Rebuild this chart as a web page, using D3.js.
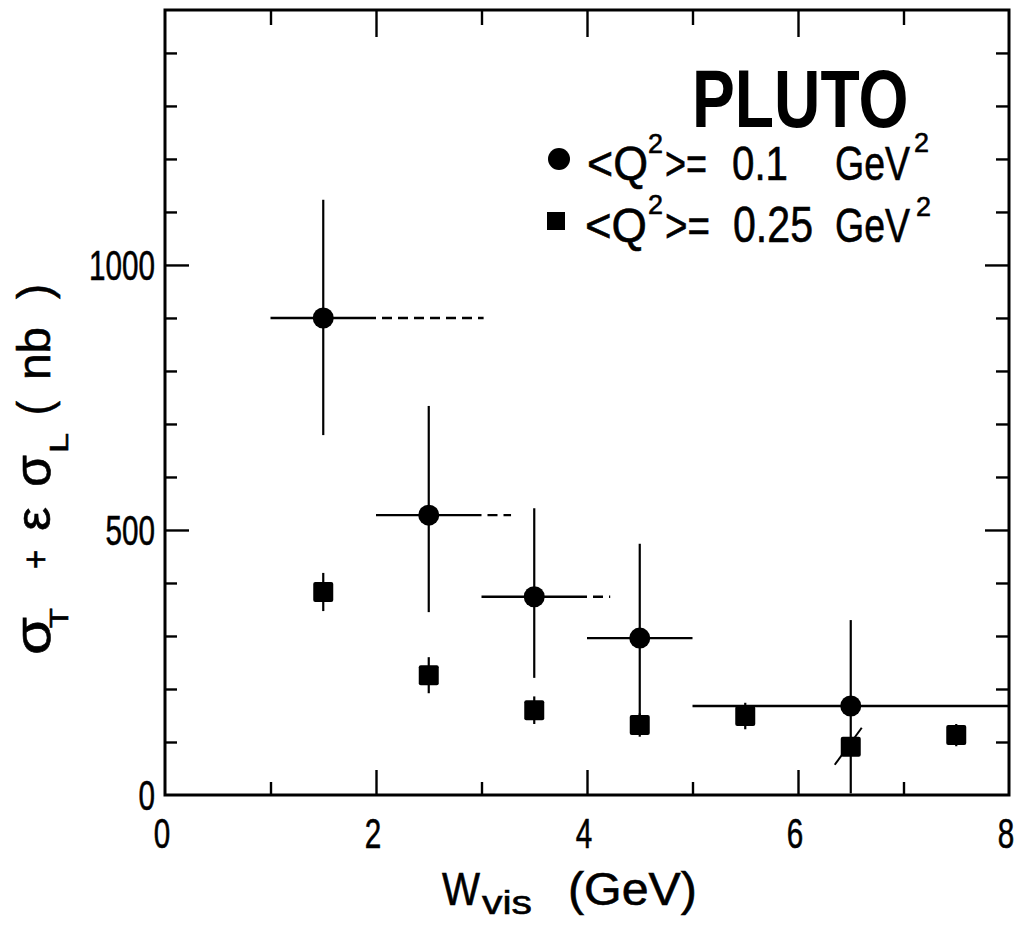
<!DOCTYPE html>
<html lang="en">
<head>
<meta charset="UTF-8">
<title>PLUTO sigma_T + eps sigma_L vs W_vis</title>
<script src="https://d3js.org/d3.v7.min.js"></script>
<style>
  body, html { margin: 0; background: #ffffff; overflow: hidden; }
  svg { display: block; }
  text { font-family: 'Liberation Sans', Arial, sans-serif; fill: #000; stroke: #000; stroke-width: 0.6px; }
  .axis path { display: none; }
  .axis line { stroke: #000; stroke-width: 2.4; }
</style>
</head>
<body>
<svg width="1020" height="926"></svg>
<script>
// <Q^2> = 0.1 GeV^2 (circles)
const wLow = [1.5, 2.5, 3.5, 4.5, 6.5];
const sigLow = [900, 528, 374, 296, 168];
const sigLowUp = [223, 206, 167, 178, 162];
const sigLowDown = [221, 183, 153, 178, 165];
const binLo = [1, 2, 3, 4, 5];
const binHi = [2, 3, 4, 5, 8];
const dashHi = [3.02, 3.28, 4.22, null, null];

// <Q^2> = 0.25 GeV^2 (squares)
const wHigh = [1.5, 2.5, 3.5, 4.5, 5.5, 6.5, 7.5];
const sigHigh = [383, 226, 160, 132, 149, 91, 113];
const sigHighErr = [36, 34, 26, 22, 25, 0, 21];

const xTickLabels = [0, 2, 4, 6, 8];
const yTickLabels = [0, 500, 1000];

const svg = d3.select("svg");
const x = d3.scaleLinear().domain([0, 8]).range([165, 1009]);
const y = d3.scaleLinear().domain([0, 1481]).range([795, 10]);

const digitW = 16.5;

// text squeezed horizontally to look like the narrow typeface of the original
function piece(parent, px, py, str, size, len, anchor) {
    const t = parent.append("text").attr("font-size", size).text(str);
    const nat = t.node().getComputedTextLength();
    const sx = len ? len / nat : 1;
    let dx = 0;
    if (anchor === "end") dx = -nat;
    if (anchor === "middle") dx = -nat / 2;
    t.attr("x", dx).attr("transform", `translate(${px},${py}) scale(${sx},1)`);
    return t;
}

// frame
svg.append("rect")
    .attr("x", x(0)).attr("y", y(1481))
    .attr("width", x(8) - x(0)).attr("height", y(0) - y(1481))
    .attr("fill", "none").attr("stroke", "#000").attr("stroke-width", 3);

const xMinor = [1, 3, 5, 7];
const yMinor = d3.range(100, 1500, 100).filter(v => v % 500 !== 0);
const yMajor = [500, 1000];

// bottom ticks
svg.append("g").attr("class", "axis").attr("transform", `translate(0,${y(0)})`)
    .call(d3.axisBottom(x).tickValues(xMinor).tickSize(-13).tickFormat(""));
svg.append("g").attr("class", "axis").attr("transform", `translate(0,${y(0)})`)
    .call(d3.axisBottom(x).tickValues([2, 4, 6]).tickSize(-25).tickFormat(""));
// top ticks
svg.append("g").attr("class", "axis").attr("transform", `translate(0,${y(1481)})`)
    .call(d3.axisTop(x).tickValues(xMinor).tickSize(-15).tickFormat(""));
svg.append("g").attr("class", "axis").attr("transform", `translate(0,${y(1481)})`)
    .call(d3.axisTop(x).tickValues([2, 4, 6]).tickSize(-27).tickFormat(""));
// left ticks
svg.append("g").attr("class", "axis").attr("transform", `translate(${x(0)},0)`)
    .call(d3.axisLeft(y).tickValues(yMinor).tickSize(-12).tickFormat(""));
svg.append("g").attr("class", "axis").attr("transform", `translate(${x(0)},0)`)
    .call(d3.axisLeft(y).tickValues(yMajor).tickSize(-24).tickFormat(""));
// right ticks
svg.append("g").attr("class", "axis").attr("transform", `translate(${x(8)},0)`)
    .call(d3.axisRight(y).tickValues(yMinor).tickSize(-13).tickFormat(""));
svg.append("g").attr("class", "axis").attr("transform", `translate(${x(8)},0)`)
    .call(d3.axisRight(y).tickValues(yMajor).tickSize(-24).tickFormat(""));

// tick labels
const labels = svg.append("g");
xTickLabels.forEach(v => piece(labels, Math.min(x(v) - 3, 1008), 848, String(v), 42, String(v).length * digitW, "middle"));
yTickLabels.forEach(v => piece(labels, x(0) - 10, y(v) + 15, String(v), 42, String(v).length * digitW, "end"));

// --- data: circles with horizontal bin bars ---
const low = wLow.map((w, i) => ({w, s: sigLow[i], up: sigLowUp[i], dn: sigLowDown[i],
    lo: binLo[i], hi: binHi[i], dash: dashHi[i]}));
const lowG = svg.append("g");
lowG.selectAll("line.v").data(low).join("line")
    .attr("x1", d => x(d.w)).attr("x2", d => x(d.w))
    .attr("y1", d => y(d.s + d.up)).attr("y2", d => y(Math.max(0, d.s - d.dn)))
    .attr("stroke", "#000").attr("stroke-width", 2.2);
lowG.selectAll("line.h").data(low).join("line")
    .attr("x1", d => x(d.lo)).attr("x2", d => x(d.hi))
    .attr("y1", d => y(d.s)).attr("y2", d => y(d.s))
    .attr("stroke", "#000").attr("stroke-width", 2.4);
lowG.selectAll("line.d").data(low.filter(d => d.dash !== null)).join("line")
    .attr("x1", d => x(d.hi) + 6).attr("x2", d => x(d.dash))
    .attr("y1", d => y(d.s)).attr("y2", d => y(d.s))
    .attr("stroke", "#000").attr("stroke-width", 2.4).attr("stroke-dasharray", "10,6");
lowG.selectAll("circle").data(low).join("circle")
    .attr("cx", d => x(d.w)).attr("cy", d => y(d.s)).attr("r", 10.5).attr("fill", "#000");

// --- data: squares ---
const high = wHigh.map((w, i) => ({w, s: sigHigh[i], e: sigHighErr[i]}));
const highG = svg.append("g");
highG.selectAll("line").data(high.filter(d => d.e > 0)).join("line")
    .attr("x1", d => x(d.w)).attr("x2", d => x(d.w))
    .attr("y1", d => y(d.s + d.e)).attr("y2", d => y(d.s - d.e))
    .attr("stroke", "#000").attr("stroke-width", 2.2);
highG.selectAll("rect").data(high).join("rect")
    .attr("x", d => x(d.w) - 10).attr("y", d => y(d.s) - 10)
    .attr("width", 20).attr("height", 20).attr("rx", 2).attr("fill", "#000");
// slash drawn through the 6.5 GeV square
const slashed = high.find(d => d.w === 6.5);
highG.append("line")
    .attr("x1", x(slashed.w) - 16).attr("y1", y(slashed.s) + 18)
    .attr("x2", x(slashed.w) + 11).attr("y2", y(slashed.s) - 19)
    .attr("stroke", "#000").attr("stroke-width", 2);

// --- title & legend ---
piece(svg, 692, 127, "PLUTO", 82, 213).attr("font-weight", "bold").style("stroke-width", 0);

svg.append("circle").attr("cx", 559).attr("cy", 159).attr("r", 11).attr("fill", "#000");
piece(svg, 587, 180, "<Q", 49, 61);
piece(svg, 648, 153, "2", 28, 15);
piece(svg, 665, 180, ">=", 49, 42);
piece(svg, 732, 180, "0.1", 49, 56);
piece(svg, 835, 180, "GeV", 49, 75);
piece(svg, 914, 152, "2", 28, 15);

svg.append("rect").attr("x", 547).attr("y", 212).attr("width", 18).attr("height", 18).attr("fill", "#000");
piece(svg, 585, 242, "<Q", 49, 62);
piece(svg, 648, 214, "2", 28, 15);
piece(svg, 665, 242, ">=", 49, 45);
piece(svg, 733, 242, "0.25", 49, 80);
piece(svg, 835, 242, "GeV", 49, 75);
piece(svg, 916, 216, "2", 28, 15);

// x axis title
piece(svg, 442, 905, "W", 46, 38);
piece(svg, 482, 914, "vis", 34, 50);
piece(svg, 568, 905, "(GeV)", 46, 129);

// y axis title (rotated, reads bottom to top)
const yt = svg.append("g").attr("transform", "translate(50,655) rotate(-90)");
piece(yt, 0, 0, "σ", 52, 38);
piece(yt, 27, 18, "T", 26, 20);
piece(yt, 86, -2, "+", 36, 19);
piece(yt, 124, 0, "ε", 48, 24);
piece(yt, 168, 0, "σ", 52, 32);
piece(yt, 202, 18, "L", 26, 20);
piece(yt, 240, 0, "(", 46, 14);
piece(yt, 275, 0, "nb", 46, 53);
piece(yt, 356, 0, ")", 46, 15);
</script>
</body>
</html>
